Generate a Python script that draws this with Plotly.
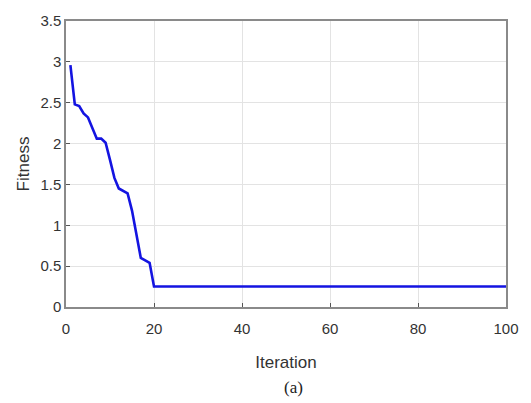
import plotly.graph_objects as go

iterations = list(range(1, 101))
fitness_head = [2.96, 2.48, 2.46, 2.37, 2.32, 2.20, 2.06, 2.06, 2.01, 1.80,
                1.58, 1.45, 1.42, 1.39, 1.18, 0.90, 0.60, 0.57, 0.54, 0.25]
fitness = fitness_head + [0.25] * (len(iterations) - len(fitness_head))

x_ticks = [0, 20, 40, 60, 80, 100]
y_ticks = [0, 0.5, 1, 1.5, 2, 2.5, 3, 3.5]
y_tick_labels = ["0", "0.5", "1", "1.5", "2", "2.5", "3", "3.5"]

FONT = "Liberation Sans, Arial, Helvetica, sans-serif"

fig = go.Figure()
fig.add_trace(go.Scatter(x=iterations, y=fitness, mode="lines",
                         line=dict(color="rgb(20,20,225)", width=2.6),
                         showlegend=False))

axis_common = dict(showgrid=True, gridcolor="#e3e3e3", gridwidth=1,
                   showline=True, linecolor="#8a8a8a", linewidth=1.5,
                   mirror=True, ticks="inside", ticklen=4, tickcolor="#555555",
                   zeroline=False,
                   tickfont=dict(family=FONT, size=15, color="#333333"))

fig.update_xaxes(range=[0, 100], tickvals=x_ticks, ticklabelstandoff=7, **axis_common,
                 title=dict(text="Iteration", standoff=20,
                            font=dict(family=FONT, size=17, color="#333333")))
fig.update_yaxes(range=[0, 3.5], tickvals=y_ticks, ticktext=y_tick_labels, **axis_common,
                 title=dict(text="Fitness", standoff=6,
                            font=dict(family=FONT, size=17, color="#333333")))

fig.add_annotation(text="(a)", xref="paper", yref="paper", x=0.516, y=-0.281,
                   showarrow=False, xanchor="center", yanchor="middle",
                   font=dict(family="Liberation Serif, Times New Roman, serif", size=17, color="#222222"))

fig.update_layout(width=531, height=403, margin=dict(l=66, r=21, t=12, b=96),
                  plot_bgcolor="white", paper_bgcolor="white")

fig.write_html("out.html")
